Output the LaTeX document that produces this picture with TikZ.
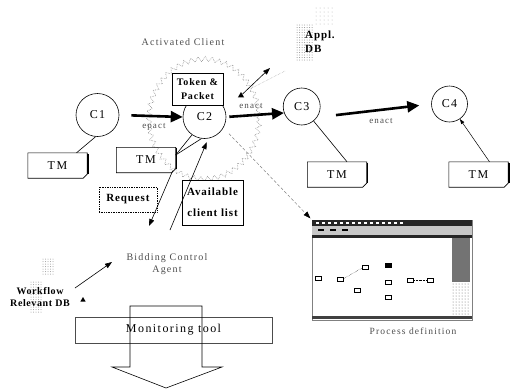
\documentclass[tikz,border=0pt]{standalone}
\usepackage{fontspec}
\setmainfont{Liberation Serif}
\usetikzlibrary{arrows.meta,decorations.pathmorphing,shapes.geometric}
\begin{document}
\begin{tikzpicture}[x=1pt,y=-1pt,
  every node/.style={inner sep=0pt},
  circ/.style={circle,draw,line width=0.6pt,minimum size=#1,font=\fontsize{12}{12}\selectfont\addfontfeature{LetterSpace=10}},
  tmbox/.style={minimum width=59pt,minimum height=25pt,font=\fontsize{12}{12}\selectfont\addfontfeature{LetterSpace=15}},
  bbox/.style 2 args={draw,line width=0.7pt,fill=white,align=center,font=\bfseries\fontsize{#1}{#2}\selectfont\addfontfeature{LetterSpace=8}},
  graylbl/.style={text=black!70,font=\fontsize{#1}{12.5}\selectfont\addfontfeature{LetterSpace=12}},
  fatarr/.style={line width=2.6pt,-{Triangle[length=12pt,width=11pt]}},
  thinarr/.style={line width=0.6pt,-{Triangle[length=7pt,width=5pt]}},
  conn/.style={line width=0.6pt},
  tri/.style={regular polygon,regular polygon sides=3,fill=black,minimum size=#1},
  htdot/.style={fill=black!#1},
]
\useasboundingbox (0,0) rectangle (518,389);

% activated client cloud
\draw[black!45,densely dotted,line width=0.6pt,decorate,decoration={zigzag,segment length=7pt,amplitude=2.5pt}]
  (204,119) ellipse [x radius=55pt, y radius=60pt];
\node[graylbl=10] (act) at (183,42) {Activated Client};

% halftone backgrounds
\foreach \x in {297,299.5,...,314} \foreach \y in {25,27.5,...,62}
  \fill[htdot=45] (\x,\y) circle[radius=0.5pt];
\foreach \x in {316,320,...,332} \foreach \y in {8,12,...,26}
  \fill[htdot=30] (\x,\y) circle[radius=0.5pt];
\foreach \x in {43,45.5,...,53} \foreach \y in {259,261.5,...,276}
  \fill[htdot=40] (\x,\y) circle[radius=0.5pt];
\foreach \x in {31,33.5,...,41} \foreach \y in {282,284.5,...,314}
  \fill[htdot=40] (\x,\y) circle[radius=0.5pt];

% clients
\node[circ=43pt] (c1) at (97.5,115) {C1};
\node[circ=43pt] (c2) at (204.5,117) {C2};
\node[circ=37pt] (c3) at (301.7,106.5) {C3};
\node[circ=36pt] (c4) at (449.5,104) {C4};

\node[bbox={10}{14},minimum width=51pt,minimum height=32pt] (tok) at (197.5,89) {Token \&\\Packet};

% TM boxes
\node[tmbox] (tm1) at (57.5,165.5) {TM};
\node[tmbox] (tm2) at (146,160) {TM};
\node[tmbox] (tm3) at (337,174.5) {TM};
\node[tmbox] (tm4) at (478.5,174.5) {TM};
\foreach \n in {tm1,tm2,tm3,tm4}{
  \draw[line width=0.6pt] (\n.north west) -- (\n.north east) -- ([yshift=4pt]\n.south east)
     -- ([xshift=-4pt]\n.south east) -- (\n.south west) -- cycle;
  \draw[line width=1.1pt] ([xshift=0.8pt,yshift=-1pt]\n.north east) -- ([xshift=0.8pt,yshift=4pt]\n.south east);
}

% enact arrows
\draw[fatarr,shorten <=12pt] (c1.east) -- (c2.west);
\draw[fatarr,shorten <=3pt] (c2.east) -- (c3.200);
\draw[fatarr,shorten <=19pt,shorten >=12pt] (c3.-35) -- (c4.west);
\node[graylbl=9] (l1) at (154,127) {epact};
\node[graylbl=9] (l2) at (251,106) {enact};
\node[graylbl=9] (l3) at (381,121) {enact};

% client to TM lines
\draw[conn] (c1.265) -- ([xshift=19pt]tm1.north);
\draw[conn] (c2.235) -- ([yshift=5pt]tm2.east);
\draw[conn] (c2.262) -- ([yshift=5pt]tm2.east);
\draw[conn] (c3) -- ([xshift=10pt]tm3.north);
\draw[line width=0.5pt,-{Triangle[length=5pt,width=3.5pt]}] ([xshift=11pt]tm4.north) -- (c4);

% Appl. DB
\node[font=\bfseries\fontsize{11}{14}\selectfont\addfontfeature{LetterSpace=8},align=left,anchor=north west] (appl) at (305,31) {Appl.\\DB};
\node[tri=7pt] (tri1) at (241,95.5) {};
\coordinate (appltip) at (270,68);
\draw[thinarr] (tri1) -- (appltip);
\coordinate (fl1) at (250,89);
\coordinate (fl2) at (285,71);
\draw[black!35,densely dotted,line width=0.5pt] (fl1) -- (fl2);

% process definition screenshot
\node[draw=black!50,line width=0.5pt,minimum width=160pt,minimum height=100pt] (proc) at (392,270) {};
\fill[black!85] (312,220) rectangle (472,226);
\foreach \x in {316,322,...,400} \fill[white] (\x,222.3) rectangle ++(3,1.4);
\fill[black!22] (312,226) rectangle (472,235);
\foreach \x in {318,330,342} \fill[black] (\x,229) rectangle ++(6,2);
\fill[black!85] (312,235) rectangle (472,238);
\fill[black!55] (452,238) rectangle (470,282);
\foreach \x in {453,456,...,469} \foreach \y in {284,287,...,315}
  \fill[htdot=60] (\x,\y) circle[radius=0.5pt];
\fill[black!75] (312,316) rectangle (472,318.5);
\foreach \p in {(318,278),(340,279),(365,267),(357,290),(388,282),(388,297),(410,280),(430,280)}
  \draw[line width=0.5pt] \p ++(-3,-2) rectangle ++(6,4);
\fill (385,263) rectangle (392,268);
\draw[line width=0.4pt,densely dotted] (343,279) -- (362,268);
\draw[line width=0.4pt,densely dotted] (413,280) -- (427,280);
\node[graylbl=9.5] (procl) at (413,331) {Process definition};
\draw[black!50,densely dashed,line width=0.5pt,-{Triangle[length=7pt,width=5pt,color=black]},shorten <=8pt,shorten >=2pt]
  (c2.-30) -- (proc.north west);

% request / available
\node[bbox={11}{13},minimum width=58pt,minimum height=25pt,densely dotted] (req) at (128,199.5) {Request};
\node[bbox={11}{21},minimum width=61pt,minimum height=45pt] (avl) at (212.5,202.5) {Available\\client list};

\node[graylbl=10,align=center] (bca) at (167,264) {Bidding Control\\Agent};
\coordinate (rqend) at (149,226);
\draw[thinarr] ([xshift=-3pt,yshift=2pt]tm2.south east) -- (rqend);
\coordinate (avstart) at (170,230);
\draw[thinarr,shorten >=4pt] (avstart) -- (c2.-80);

% workflow relevant DB
\node[font=\bfseries\fontsize{10}{12.5}\selectfont\addfontfeature{LetterSpace=6},align=center] (wf) at (40,297) {Workflow\\Relevant DB};
\coordinate (wfs) at (75,288);
\coordinate (wft) at (112,262);
\draw[thinarr] (wfs) -- (wft);
\node[tri=6pt] (tri2) at (83,300) {};

% monitoring tool
\node[draw=black!70,line width=0.6pt,minimum width=197pt,minimum height=26pt,
  font=\fontsize{12}{12}\selectfont\addfontfeature{LetterSpace=12}] (mon) at (173.5,330) {Monitoring tool};
\draw[line width=0.6pt] (130,306) -- (130,367) -- (112,367) -- (166,388) -- (222,367) -- (202,367) -- (202,306) -- cycle;
\end{tikzpicture}
\end{document}
